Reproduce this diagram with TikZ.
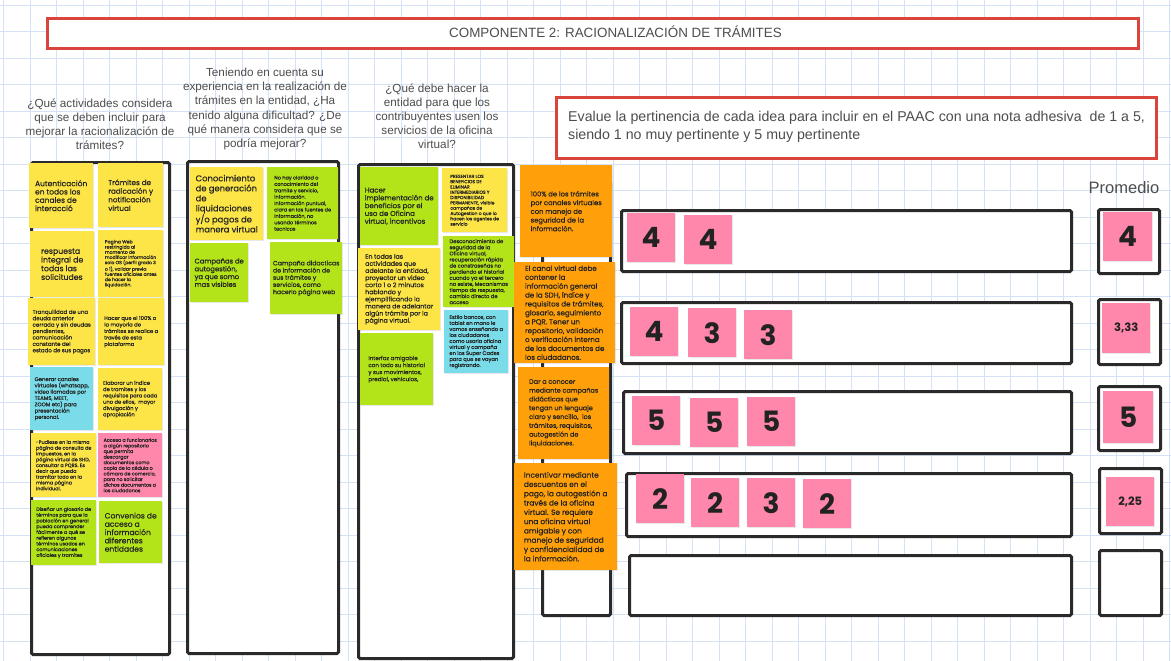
\documentclass[tikz,border=0pt]{standalone}
\usepackage{fontspec}
\setmainfont{Liberation Sans}
\newfontfamily\notefont{Poppins}[FakeBold=0.35]
\newfontfamily\numfont{Poppins}
\usetikzlibrary{shadows}

\definecolor{gridblue}{HTML}{D3E2F4}
\definecolor{framered}{HTML}{D9453D}
\definecolor{frameblack}{HTML}{2A2A2A}
\definecolor{noteyellow}{HTML}{FDE547}
\definecolor{notegreen}{HTML}{B3E41A}
\definecolor{notecyan}{HTML}{7ADCE8}
\definecolor{notepink}{HTML}{FF87AB}
\definecolor{noteorange}{HTML}{FF9F0A}
\definecolor{inktext}{HTML}{222222}
\definecolor{headtext}{HTML}{4D4D4D}

\newcommand\fs[2]{\fontsize{#1}{#2}\selectfont}

\tikzset{
  gridline/.style={draw=gridblue, line width=0.9pt},
  redframe/.style={draw=framered, line width=3pt, fill=white},
  blackframe/.style={draw=frameblack, line width=3pt, fill=white, rounded corners=1.5pt},
  sticky/.style={inner sep=0pt, align=left, text=inktext,
    drop shadow={shadow xshift=0.7pt, shadow yshift=-0.9pt, opacity=0.18}},
  scorenote/.style={sticky, fill=notepink, align=center, font=\numfont\bfseries\fs{28}{30}},
  heading/.style={align=center, text=headtext, font=\fs{11.7}{14.1}},
}

% framed box given by its corners: name, x1, y1, x2, y2, style
\newcommand\frameat[6]{%
  \node[#6, anchor=north west, inner sep=0pt, minimum width={#4-#2}, minimum height={#5-#3}] (#1) at (#2,#3) {};}
% sticky note: name, x, y, width, height, colour, font size, leading, text
\newcommand\stickyat[9]{%
  \node[sticky, fill=#6, anchor=north west, minimum width=#4, minimum height=#5,
        font=\notefont\fs{#7}{#8}] (#1) at (#2,#3) {#9};}
% score note: name, x, y, width, height, text
\newcommand\scoreat[6]{%
  \node[scorenote, anchor=north west, minimum width=#4, minimum height=#5] (#1) at (#2,#3) {#6};}

\begin{document}
\begin{tikzpicture}[x=1pt,y=-1pt]
\useasboundingbox (0,0) rectangle (1171,661);
\fill[white] (0,0) rectangle (1171,661);

% squared paper
\foreach \i in {0,...,44} \draw[gridline] ({3.5+26.5*\i},0) -- ({3.5+26.5*\i},661);
\foreach \j in {0,...,25} \draw[gridline] (0,{5+26.5*\j}) -- (1171,{5+26.5*\j});

% title and instructions
\frameat{titlebox}{46}{17}{1137}{47}{redframe}
\node[font=\fs{13.4}{15}, text=headtext] (title) at (615.5,32) {COMPONENTE 2: RACIONALIZACIÓN DE TRÁMITES};
\frameat{instrbox}{555}{96}{1155}{157}{redframe}
\node[anchor=west, align=left, inner sep=0pt, font=\fs{14.2}{18}, text=headtext] (instr) at (568,127)
  {Evalue la pertinencia de cada idea para incluir en el PAAC con una nota adhesiva\ \ de 1 a 5,\\siendo 1 no muy pertinente y 5 muy pertinente};

% column questions
\node[heading] (q1) at (100,124) {¿Qué actividades considera\\que se deben incluir para\\mejorar la racionalización de\\trámites?};
\node[heading] (q2) at (265,109) {Teniendo en cuenta su\\experiencia en la realización de\\trámites en la entidad, ¿Ha\\tenido alguna dificultad? ¿De\\qué manera considera que se\\podría mejorar?};
\node[heading] (q3) at (437,116) {¿Qué debe hacer la\\entidad para que los\\contribuyentes usen los\\servicios de la oficina\\virtual?};

% column frames
\frameat{col1}{30}{161}{168}{653}{blackframe}
\frameat{col2}{186}{160}{337}{652}{blackframe}
\frameat{col3}{357}{163}{512}{657}{blackframe}

% column 1 notes
\stickyat{nA}{29}{163}{64}{65}{noteyellow}{7.5}{8.3}{Autenticación\\en todos los\\canales de\\interacció}
\stickyat{nB}{98}{163}{65}{64}{noteyellow}{7.2}{8.6}{Trámites de\\radicación y\\notificación\\virtual}
\stickyat{nC}{30}{231}{64}{66}{noteyellow}{7.8}{8.7}{respuesta\\integral de\\todas las\\solicitudes}
\stickyat{nD}{98}{230}{65}{67}{noteyellow}{4.6}{5.2}{Pagina Web\\restringida al\\momento de\\modificar información\\solo OS (perfil grado 3\\o 1), validar previa\\fuentes oficiales antes\\de hacer la\\liquidación.}
\stickyat{nE}{28}{298}{67}{67}{noteyellow}{5.5}{6.4}{Tranquilidad de una\\deuda anterior\\cerrada y sin deudas\\pendientes,\\comunicación\\constante del\\estado de sus pagos}
\stickyat{nF}{98}{298}{66}{67}{noteyellow}{5.3}{6.5}{Hacer que el 100\% o\\la mayoría de\\trámites se realice a\\través de esta\\plataforma}
\stickyat{nG}{30}{367}{63}{63}{notecyan}{5.3}{6.3}{Generar canales\\virtuales (whatsapp,\\video llamadas por\\TEAMS, MEET,\\ZOOM etc) para\\presentación\\personal.}
\stickyat{nH}{98}{368}{64}{62}{noteyellow}{5.2}{6.3}{Elaborar un índice\\de tramites y los\\requisitos para cada\\uno de ellos,\ \ mayor\\divulgación y\\apropiación}
\stickyat{nI}{31}{433}{65}{64}{noteyellow}{4.9}{5.8}{-Pudiese en la misma\\página de consulta de\\impuestos, en la\\página virtual de SHD,\\consultar a PQRS. Es\\decir que pueda\\tramitar todo en la\\misma página\\individual.}
\stickyat{nJ}{98}{433}{64}{64}{notepink}{4.8}{5.6}{Acceso a funcionarios\\a algún repositorio\\que permita\\descargar\\documentos como\\copia de la cédula o\\cámara de comercio,\\para no solicitar\\dichos documentos a\\los ciudadanos}
\stickyat{nK}{31}{500}{65}{65}{notegreen}{4.9}{5.75}{Diseñar un glosario de\\términos para que la\\población en general\\pueda comprender\\fácilmente a qué se\\refieren algunos\\términos usados en\\comunicaciones\\oficiales y tramites}
\stickyat{nL}{99}{501}{63}{62}{notegreen}{7.6}{8.3}{Convenios de\\acceso a\\información\\diferentes\\entidades}

% column 2 notes
\stickyat{nM}{190}{167}{73}{73}{noteyellow}{8.4}{10}{Conocimiento\\de generación\\de\\liquidaciones\\y/o pagos de\\manera virtual}
\stickyat{nN}{267}{167}{71}{72}{notegreen}{5.0}{6.4}{No hay claridad o\\conocimiento del\\tramite y servicio,\\información.\\Información puntual,\\clara en las fuentes de\\información, no\\usando términos\\tecnicos}
\stickyat{nO}{190}{243}{58}{59}{notegreen}{6.8}{7.8}{Campañas de\\autogestión,\\ya que somo\\mas visibles}
\stickyat{nP}{270}{242}{72}{72}{notegreen}{6.2}{7.2}{Campaña didacticas\\de información de\\sus trámites y\\servicios, como\\hacerlo página web}

% column 3 notes
\stickyat{nQ}{360}{167}{78}{78}{notegreen}{7}{7.8}{Hacer\\implementación de\\beneficios por el\\uso de Oficina\\virtual, incentivos}
\stickyat{nR}{442}{168}{65}{64}{noteyellow}{4.5}{5.3}{PRESENTAR LOS\\BENEFICIOS DE\\ELIMINAR\\INTERMEDIARIOS Y\\DISPONIBILIDAD\\PERMANENTE, visible\\campañas de\\Autogestion o que lo\\hacen los agentes de\\servicio}
\stickyat{nS}{358}{248}{82}{82}{noteyellow}{6.3}{7.1}{En todas las\\actividades que\\adelante la entidad,\\proyectar un video\\corto 1 o 2 minutos\\hablando y\\ejemplificando la\\manera de adelantar\\algún trámite por la\\página virtual.}
\stickyat{nT}{443}{236}{71}{71}{notegreen}{5.2}{6.1}{Desconocimiento de\\seguridad de la\\Oficina virtual,\\recuperación rápida\\de constraseñas no\\perdiendo el historial\\cuando ya el tercero\\no existe, Mecanismos\\tiempo de respuesta,\\cambio directo de\\acceso}
\stickyat{nU}{444}{310}{64}{63}{notecyan}{5.2}{6}{Estilo bancos, con\\tablet en mano le\\vamos enseñando a\\los ciudadanos\\como usarla oficina\\virtual y campaña\\en los Super Cades\\para que se vayan\\registrando.}
\stickyat{nV}{360}{333}{73}{72}{notegreen}{5.6}{7}{Interfaz amigable\\con todo su historial\\y sus movimientos,\\predial, vehiculos,}

% column 4: frame with the proposals on top
\frameat{col4}{541}{180}{609}{614}{blackframe}
\stickyat{oA}{520}{165}{92}{92}{noteorange}{6.8}{8.7}{100\% de los trámites\\por canales virtuales\\con manejo de\\seguridad de la\\información.}
\stickyat{oB}{514}{262}{101}{101}{noteorange}{7.1}{8.9}{El canal virtual debe\\contener la\\información general\\de la SDH, índice y\\requisitos de trámites,\\glosario, seguimiento\\a PQR. Tener un\\repositorio, validación\\o verificación interna\\de los documentos de\\los ciudadanos.}
\stickyat{oC}{518}{367}{91}{92}{noteorange}{6.5}{8.8}{Dar a conocer\\mediante campañas\\didácticas que\\tengan un lenguaje\\claro y sencillo,\ \ los\\trámites, requisitos,\\autogestión de\\liquidaciones.}
\stickyat{oD}{514}{463}{103}{107}{noteorange}{7.4}{9.3}{Incentivar mediante\\descuentos en el\\pago, la autogestión a\\través de la oficina\\virtual. Se requiere\\una oficina virtual\\amigable y con\\manejo de seguridad\\y confidencialidad de\\la información.}

% rating rows
\frameat{r1}{620}{209}{1070}{270}{blackframe}
\frameat{r2}{620}{301}{1070}{362}{blackframe}
\frameat{r3}{622}{390}{1070}{452}{blackframe}
\frameat{r4}{625}{472}{1070}{535}{blackframe}
\frameat{r5}{628}{554}{1070}{614}{blackframe}

\scoreat{s11}{627}{213}{48}{49}{4}
\scoreat{s12}{684}{215}{48}{49}{4}
\scoreat{s21}{630}{307}{48}{49}{4}
\scoreat{s22}{688}{308}{48}{49}{3}
\scoreat{s23}{744}{310}{48}{49}{3}
\scoreat{s31}{632}{396}{48}{49}{5}
\scoreat{s32}{690}{398}{48}{49}{5}
\scoreat{s33}{747}{397}{48}{49}{5}
\scoreat{s41}{636}{474}{48}{49}{2}
\scoreat{s42}{691}{478}{48}{49}{2}
\scoreat{s43}{747}{478}{48}{49}{3}
\scoreat{s44}{803}{479}{48}{49}{2}

% averages
\node[font=\fs{16.5}{18}, text=headtext] (promedio) at (1124,188) {Promedio};
\frameat{p1}{1097}{208}{1158}{272}{blackframe}
\frameat{p2}{1097}{298}{1159}{363}{blackframe}
\frameat{p3}{1097}{385}{1159}{449}{blackframe}
\frameat{p4}{1098}{467}{1160}{532}{blackframe}
\frameat{p5}{1098}{549}{1160}{614}{blackframe}
\scoreat{a1}{1103}{212}{49}{49}{4}
\node[scorenote, anchor=north west, minimum width=48, minimum height=50, font=\numfont\bfseries\fs{11.5}{13}] (a2) at (1102,303) {3,33};
\scoreat{a3}{1103}{391}{50}{52}{5}
\node[scorenote, anchor=north west, minimum width=48, minimum height=49, font=\numfont\bfseries\fs{11.5}{13}] (a4) at (1106,477) {2,25};
\end{tikzpicture}
\end{document}
